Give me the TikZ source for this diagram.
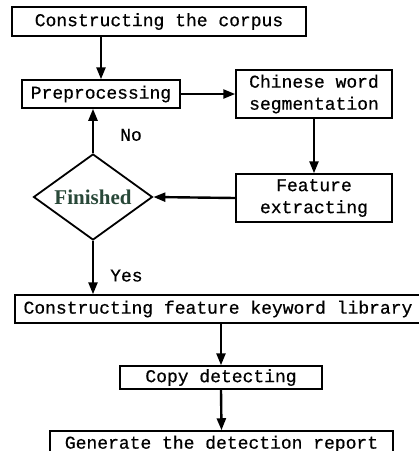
\documentclass[tikz,border=0pt]{standalone}
\usepackage{fontspec}
\setmainfont{Liberation Serif}
\newfontfamily\boxfont[FakeBold=0.6]{Liberation Mono}
\usetikzlibrary{shapes.geometric,arrows.meta}
\definecolor{findgreen}{RGB}{40,72,56}
\begin{document}
\begin{tikzpicture}[x=1pt,y=-1pt,
		mybox/.style={rectangle,draw=black,line width=1.5pt,text=black,inner sep=0pt,align=center,font=\boxfont\fontsize{18}{22}\selectfont},
		mydiamond/.style={diamond,draw=black,line width=1.8pt,inner sep=0pt,minimum width=119pt,minimum height=86pt,aspect=1.38},
		myarrow/.style={line width=2.4pt,-{Triangle[length=12pt,width=9pt]}},
		mylabel/.style={font=\boxfont\fontsize{18}{22}\selectfont,inner sep=0pt}]
		\useasboundingbox (0,0) rectangle (419,451);
		\node(corpus)[mybox,minimum width=294pt,minimum height=29pt] at (159,21.5) {Constructing the corpus};
		\node(prep)[mybox,minimum width=158pt,minimum height=28pt] at (101,94) {Preprocessing};
		\node(seg)[mybox,minimum width=156pt,minimum height=48pt] at (314,94) {Chinese word\\segmentation};
		\node(feat)[mybox,minimum width=156pt,minimum height=48pt] at (314,198) {Feature\\extracting};
		\node(fin)[mydiamond] at (93,197) {\fontsize{21}{22}\selectfont\bfseries\color{findgreen}Finished};
		\node(lib)[mybox,minimum width=412pt,minimum height=28pt] at (221,309) {\hspace*{-6pt}Constructing feature keyword library};
		\node(copy)[mybox,minimum width=202pt,minimum height=23pt] at (221,377.5) {Copy detecting};
		\node(report)[mybox,minimum width=343pt,minimum height=26pt] at (221.5,444) {Generate the detection report};
		\draw [myarrow] (prep.north |- corpus.south) -- (prep.north);
		\draw [myarrow] (prep.east) -- (seg.west);
		\draw [myarrow] (seg.south) -- (feat.north);
		\draw [myarrow] (feat.west) -- (fin.east);
		\draw [myarrow] (fin.north) -- node[mylabel,right,xshift=26pt,yshift=-4pt] (no) {No} (fin.north |- prep.south);
		\draw [myarrow] (fin.south) -- node[mylabel,right,xshift=16pt,yshift=-8pt] (yes) {Yes} (fin.south |- lib.north);
		\draw [myarrow] (copy.north |- lib.south) -- (copy.north);
		\draw [myarrow] (copy.south) -- (report.north);
	\end{tikzpicture}
\end{document}
